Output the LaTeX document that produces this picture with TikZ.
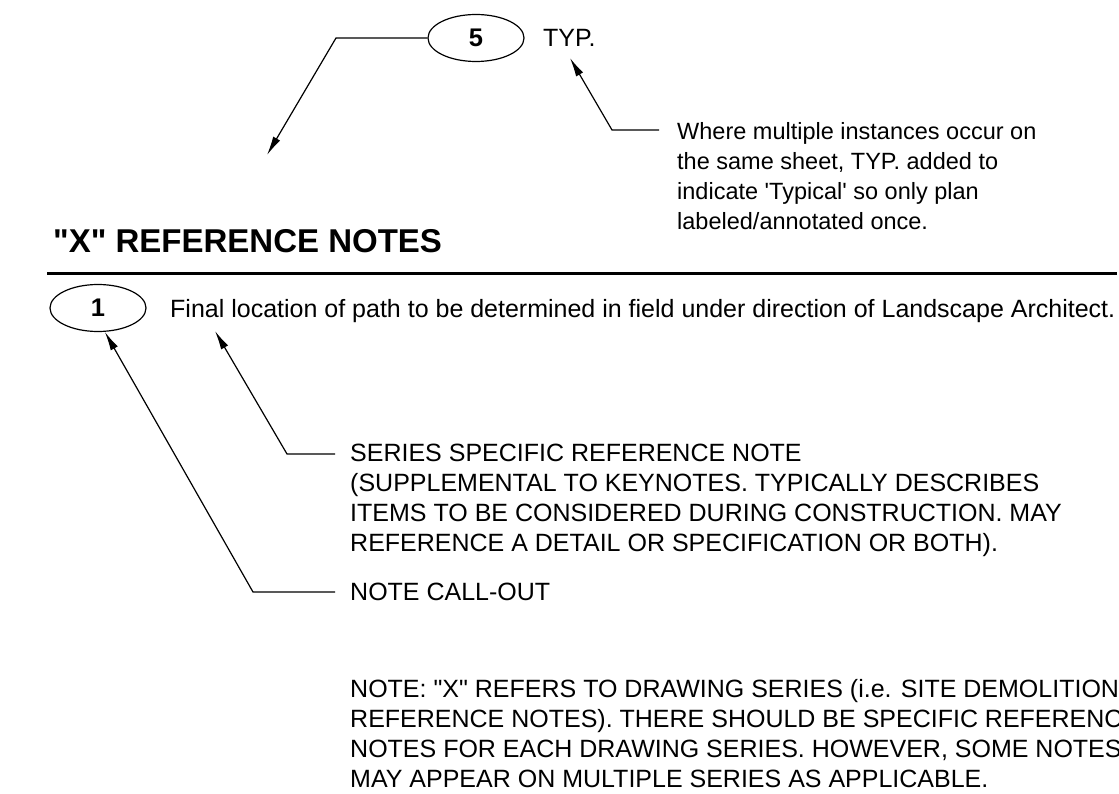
\documentclass[tikz,border=0pt]{standalone}
\usepackage{fontspec}
\setmainfont{Liberation Sans}
\usetikzlibrary{arrows.meta,shapes.geometric}

\begin{document}
\begin{tikzpicture}[x=1pt,y=-1pt,>={Latex[length=19pt,width=8pt]},
  bubble/.style={draw,ellipse,line width=1.2pt,minimum width=96pt,minimum height=47pt,inner sep=0pt,
    font=\fontsize{25.5}{30}\selectfont\bfseries},
  txt/.style={inner sep=0pt,align=left,font=\fontsize{25}{30}\selectfont},
  smalltxt/.style={txt,font=\fontsize{23.5}{30}\selectfont},
  leader/.style={line width=1.2pt}]
  \useasboundingbox (0,0) rectangle (1119,794);
  % callout 5 with TYP.
  \node[bubble] (ell5) at (476,38) {5};
  \node[txt,anchor=base west] (typ) at (543,47) {TYP.};
  \coordinate (k5) at (336,38);
  \coordinate (p5) at (267,155);
  \draw[leader,->] (ell5.west) -- (k5) -- (p5);
  % note on TYP.
  \node[smalltxt,anchor=north west] (typnote) at (677,122)
    {Where multiple instances occur on\\the same sheet, TYP. added to\\indicate \textquotesingle Typical\textquotesingle\ so only plan\\labeled/annotated once.};
  \coordinate (s1) at (659,130);
  \coordinate (k1) at (612,130);
  \coordinate (t5) at (570,58);
  \draw[leader,->] (s1) -- (k1) -- (t5);
  % heading and rule
  \node[inner sep=0pt,anchor=base west,font=\fontsize{33}{36}\selectfont\bfseries] (title) at (53,253)
    {\textquotedbl X\textquotedbl\ REFERENCE NOTES};
  \coordinate (r1) at (47,274);
  \coordinate (r2) at (1117,274);
  \draw[line width=3pt] (r1) -- (r2);
  % reference note 1
  \node[bubble] (ell1) at (98,308) {1};
  \node[txt,anchor=base west] (final) at (170,317)
    {Final location of path to be determined in field under direction of Landscape Architect.};
  % explanations
  \node[txt,anchor=north west] (series) at (350,444)
    {SERIES SPECIFIC REFERENCE NOTE\\(SUPPLEMENTAL TO KEYNOTES. TYPICALLY DESCRIBES\\ITEMS TO BE CONSIDERED DURING CONSTRUCTION. MAY\\REFERENCE A DETAIL OR SPECIFICATION OR BOTH).};
  \node[txt,anchor=base west] (callout) at (350,600) {NOTE CALL-OUT};
  \coordinate (s2) at (335,454);
  \coordinate (k2) at (287,454);
  \coordinate (t2) at (215,331);
  \draw[leader,->] (s2) -- (k2) -- (t2);
  \coordinate (s3) at (335,592);
  \coordinate (k3) at (253,592);
  \draw[leader,->] (s3) -- (k3) -- (ell1.286);
  % general note
  \node[txt,anchor=north west] (xnote) at (350,679)
    {NOTE: \textquotedbl X\textquotedbl\ REFERS TO DRAWING SERIES (i.e. SITE DEMOLITION\\REFERENCE NOTES). THERE SHOULD BE SPECIFIC REFERENCE\\NOTES FOR EACH DRAWING SERIES. HOWEVER, SOME NOTES\\MAY APPEAR ON MULTIPLE SERIES AS APPLICABLE.};
\end{tikzpicture}
\end{document}
